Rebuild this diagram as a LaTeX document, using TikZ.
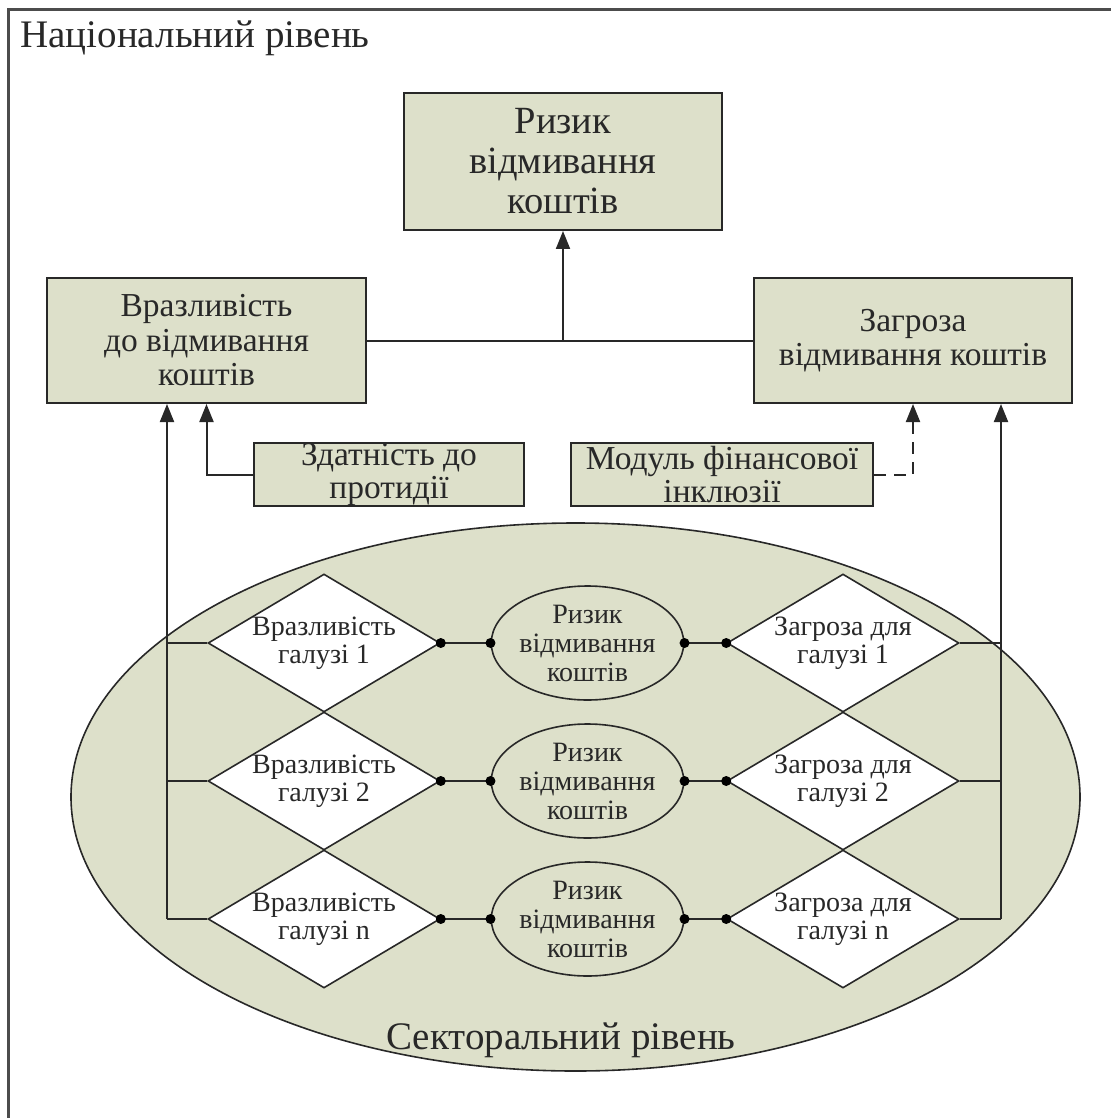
\documentclass[tikz,border=0pt]{standalone}
\usepackage{fontspec}
\setmainfont{Liberation Serif}
\usetikzlibrary{shapes.geometric,arrows.meta,calc}
\definecolor{sage}{RGB}{221,224,202}
\definecolor{ink}{RGB}{40,40,40}
\begin{document}
\begin{tikzpicture}[x=0.5pt,y=-0.5pt,
 box/.style={draw=ink, line width=1pt, fill=sage, inner sep=0pt, align=center, text=ink},
 bigf/.style={font=\fontsize{19.25}{20}\selectfont},
 midf/.style={font=\fontsize{16.75}{17.25}\selectfont},
 smallf/.style={font=\fontsize{16.75}{16.5}\selectfont},
 dia/.style={diamond, draw=ink, line width=0.8pt, fill=white, inner sep=0pt, aspect=1.68, minimum width=116pt, minimum height=69pt, align=center, font=\fontsize{14}{14}\selectfont, text=ink},
 oval/.style={ellipse, draw=ink, line width=0.8pt, fill=sage, minimum width=90.5pt, minimum height=57pt, inner sep=0pt, align=center, font=\fontsize{14}{14.5}\selectfont, text=ink},
 wire/.style={draw=ink, line width=1pt},
 arr/.style={wire, -{Triangle[length=9pt,width=7pt]}},
 dot/.style={circle, fill=black, inner sep=0pt, minimum size=5pt}]
\useasboundingbox (0,0) rectangle (1111,1118);
% outer frame
\draw[line width=1.5pt, draw=black!70] (8,1140) -- (8,10) -- (1140,10);
\node[anchor=base west, font=\fontsize{19.5}{20}\selectfont, text=ink, inner sep=0pt] (nat) at (20,48) {Національний рівень};
% sector ellipse
\node[ellipse, draw=ink, line width=0.8pt, fill=sage, minimum width=504.5pt, minimum height=274pt, inner sep=0pt] (sector) at (575.5,797) {};
\node[anchor=base, font=\fontsize{19.5}{20}\selectfont, text=ink, inner sep=0pt] (sectxt) at (561,1049) {Секторальний рівень};
% national boxes
\node[box, bigf, minimum width=159pt, minimum height=68.5pt] (risk) at (563,161.5) {Ризик\\відмивання\\коштів};
\node[box, midf, minimum width=159.5pt, minimum height=62.5pt] (vuln) at (206.5,340.5) {Вразливість\\до відмивання\\коштів};
\node[box, midf, minimum width=159pt, minimum height=62.5pt] (threat) at (913,340.5) {Загроза\\відмивання коштів};
\node[box, smallf, minimum width=135pt, minimum height=31.5pt] (cap) at (389,474.5) {Здатність до\\протидії};
\node[box, smallf, minimum width=151pt, minimum height=31.5pt] (incl) at (722,474.5) {Модуль фінансової\\інклюзії};
% top connectors
\draw[wire] (vuln.east) -- (threat.west);
\draw[arr] (risk.south |- vuln.east) -- (risk.south);
\draw[arr] (cap.west) -| (vuln.south);
\draw[arr, dash pattern=on 6pt off 4pt] (incl.east) -| (threat.south);
% sector rows
\foreach \i/\y/\lab in {1/643/1, 2/781/2, 3/919/n}{
  \node[dia] (v\i) at (324,\y) {Вразливість\\галузі \lab};
  \node[dia] (t\i) at (843,\y) {Загроза для\\галузі \lab};
  \node[oval] (r\i) at (587.5,\y) {Ризик\\відмивання\\коштів};
  \draw[wire] (v\i.east) -- (r\i.west);
  \draw[wire] (r\i.east) -- (t\i.west);
  \node[dot] (dv\i) at (v\i.east) {};
  \node[dot] (dr\i) at (r\i.west) {};
  \node[dot] (de\i) at (r\i.east) {};
  \node[dot] (dt\i) at (t\i.west) {};
}
\coordinate (lb) at (167,919);
\coordinate (rb) at (1001,919);
\draw[arr] (lb) -- (lb |- vuln.south);
\draw[arr] (rb) -- (rb |- threat.south);
\foreach \i in {1,2,3}{
  \draw[wire] (lb |- v\i.west) -- (v\i.west);
  \draw[wire] (t\i.east) -- (rb |- t\i.east);
}
\end{tikzpicture}
\end{document}
